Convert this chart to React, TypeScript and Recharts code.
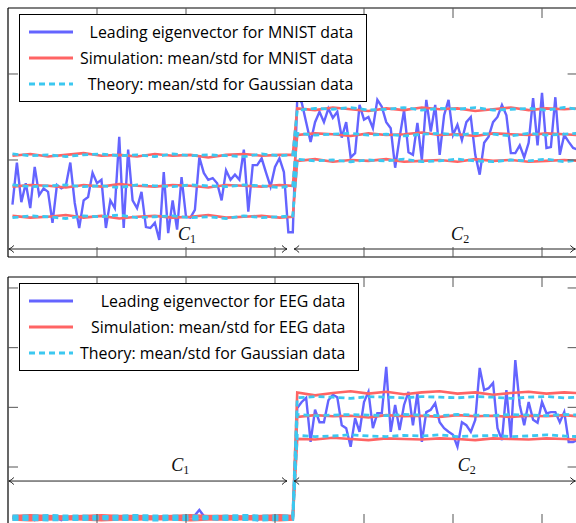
import React from 'react';
import { LineChart, Line, XAxis, YAxis, Legend, ReferenceLine, ReferenceDot } from 'recharts';

// leading eigenvector entries, samples 1..128 (1-64 = class C1, 65-128 = class C2)
const MNIST_VEC = [
  -0.052, -0.003, -0.049, -0.027, -0.056, -0.008, -0.041, -0.033, -0.037, -0.073, -0.029, -0.033, -0.030, -0.003, -0.050, -0.079,
  -0.047, -0.043, -0.015, -0.027, -0.023, -0.079, -0.047, -0.056, 0.027, -0.079, 0.012, -0.047, -0.056, -0.037, -0.078, -0.079,
  -0.073, -0.093, -0.014, -0.085, -0.047, -0.081, -0.020, -0.066, -0.067, -0.058, 0.003, -0.015, -0.023, -0.021, -0.027, -0.047,
  -0.012, -0.023, -0.017, -0.023, 0.012, -0.060, -0.006, -0.006, 0.002, -0.015, -0.031, -0.008, 0.002, -0.014, -0.084, -0.084,
  0.072, 0.067, 0.044, 0.021, 0.044, 0.056, 0.044, 0.060, 0.049, 0.056, 0.026, 0.044, 0.003, 0.008, 0.064, 0.047,
  0.050, 0.037, 0.070, 0.062, 0.044, 0.037, -0.009, 0.026, 0.058, 0.009, 0.006, 0.043, 0.000, 0.070, 0.033, 0.064,
  0.006, 0.052, 0.070, 0.029, 0.041, 0.023, 0.044, 0.050, 0.006, -0.017, 0.020, 0.027, 0.044, 0.050, 0.064, 0.052,
  0.008, 0.008, 0.017, 0.003, 0.020, 0.072, 0.017, 0.078, 0.014, 0.015, 0.073, 0.006, 0.029, 0.021, 0.014, 0.012,
];

const EEG_VEC = [
  -0.085, -0.085, -0.086, -0.085, -0.085, -0.089, -0.085, -0.084, -0.085, -0.085, -0.086, -0.089, -0.085, -0.085, -0.084, -0.085,
  -0.085, -0.086, -0.085, -0.085, -0.084, -0.085, -0.085, -0.085, -0.086, -0.088, -0.085, -0.085, -0.084, -0.085, -0.085, -0.086,
  -0.085, -0.085, -0.085, -0.084, -0.085, -0.086, -0.085, -0.085, -0.084, -0.081, -0.072, -0.082, -0.085, -0.086, -0.088, -0.085,
  -0.085, -0.084, -0.085, -0.085, -0.086, -0.085, -0.085, -0.089, -0.085, -0.084, -0.085, -0.086, -0.085, -0.085, -0.085, -0.085,
  0.099, 0.109, 0.116, 0.042, 0.096, 0.075, 0.075, 0.112, 0.121, 0.117, 0.070, 0.065, 0.034, 0.082, 0.059, 0.109,
  0.126, 0.065, 0.090, 0.090, 0.168, 0.059, 0.104, 0.062, 0.104, 0.126, 0.070, 0.124, 0.042, 0.092, 0.096, 0.107,
  0.075, 0.065, 0.059, 0.054, 0.034, 0.075, 0.070, 0.059, 0.079, 0.166, 0.129, 0.132, 0.141, 0.065, 0.045, 0.129,
  0.049, 0.179, 0.104, 0.070, 0.109, 0.079, 0.074, 0.109, 0.090, 0.092, 0.092, 0.075, 0.092, 0.042, 0.042, 0.045,
];

// sample indices at which the mean and mean +/- std curves are given
const STAT_IDX = [
  1, 5, 9, 13, 17, 21, 25, 29, 33, 37, 41, 45, 49, 53, 57, 61, 64,
  65, 69, 73, 77, 81, 85, 89, 93, 97, 101, 105, 109, 113, 117, 121, 125, 128,
];

const MNIST_SIM_HI = [
  0.005, 0.007, 0.004, 0.006, 0.008, 0.005, 0.006, 0.004, 0.007, 0.005, 0.006, 0.003, 0.006, 0.007, 0.005, 0.006, 0.006,
  0.060, 0.058, 0.061, 0.059, 0.057, 0.060, 0.058, 0.061, 0.059, 0.060, 0.057, 0.059, 0.061, 0.058, 0.060, 0.059, 0.060,
];
const MNIST_SIM_MEAN = [
  -0.031, -0.029, -0.030, -0.032, -0.029, -0.031, -0.028, -0.030, -0.031, -0.029, -0.030, -0.032, -0.029, -0.030, -0.031, -0.029, -0.030,
  0.029, 0.031, 0.030, 0.028, 0.031, 0.029, 0.030, 0.032, 0.029, 0.030, 0.028, 0.031, 0.030, 0.029, 0.031, 0.030, 0.029,
];
const MNIST_SIM_LO = [
  -0.065, -0.067, -0.066, -0.064, -0.067, -0.065, -0.068, -0.066, -0.065, -0.067, -0.066, -0.064, -0.067, -0.066, -0.065, -0.067, -0.066,
  -0.001, 0.001, -0.002, 0.000, -0.001, 0.001, -0.002, -0.001, 0.000, -0.002, 0.001, -0.001, 0.000, -0.002, -0.001, 0.000, -0.001,
];
const MNIST_TH_HI = [
  0.007, 0.005, 0.006, 0.004, 0.006, 0.007, 0.005, 0.006, 0.004, 0.007, 0.005, 0.006, 0.005, 0.004, 0.007, 0.005, 0.006,
  0.058, 0.060, 0.059, 0.061, 0.058, 0.059, 0.061, 0.058, 0.060, 0.059, 0.061, 0.058, 0.059, 0.060, 0.058, 0.061, 0.059,
];
const MNIST_TH_MEAN = [
  -0.029, -0.031, -0.030, -0.029, -0.031, -0.030, -0.032, -0.029, -0.030, -0.031, -0.029, -0.030, -0.031, -0.029, -0.030, -0.032, -0.030,
  0.031, 0.029, 0.030, 0.031, 0.029, 0.030, 0.028, 0.030, 0.031, 0.029, 0.031, 0.030, 0.028, 0.031, 0.029, 0.030, 0.031,
];
const MNIST_TH_LO = [
  -0.067, -0.065, -0.066, -0.068, -0.065, -0.066, -0.064, -0.067, -0.066, -0.065, -0.067, -0.066, -0.068, -0.065, -0.067, -0.066, -0.065,
  0.001, -0.001, 0.000, -0.002, 0.000, -0.001, 0.001, -0.002, -0.001, 0.001, -0.001, -0.002, 0.000, -0.001, 0.001, -0.002, 0.000,
];

const EEG_SIM_HI = [
  -0.082, -0.081, -0.082, -0.083, -0.082, -0.081, -0.082, -0.082, -0.083, -0.082, -0.081, -0.082, -0.082, -0.083, -0.082, -0.081, -0.082,
  0.125, 0.120, 0.124, 0.127, 0.123, 0.126, 0.122, 0.125, 0.127, 0.123, 0.125, 0.121, 0.124, 0.126, 0.123, 0.125, 0.124,
];
const EEG_SIM_MEAN = [
  -0.085, -0.085, -0.086, -0.085, -0.084, -0.085, -0.085, -0.086, -0.085, -0.085, -0.084, -0.085, -0.085, -0.086, -0.085, -0.085, -0.085,
  0.084, 0.087, 0.085, 0.086, 0.083, 0.087, 0.085, 0.086, 0.084, 0.087, 0.085, 0.086, 0.084, 0.086, 0.085, 0.087, 0.085,
];
const EEG_SIM_LO = [
  -0.088, -0.089, -0.088, -0.087, -0.088, -0.089, -0.088, -0.088, -0.087, -0.088, -0.089, -0.088, -0.088, -0.087, -0.088, -0.089, -0.088,
  0.047, 0.046, 0.049, 0.047, 0.045, 0.048, 0.047, 0.046, 0.048, 0.047, 0.045, 0.048, 0.047, 0.046, 0.048, 0.047, 0.046,
];
const EEG_TH_HI = [
  -0.082, -0.082, -0.081, -0.082, -0.082, -0.083, -0.082, -0.081, -0.082, -0.082, -0.082, -0.083, -0.082, -0.081, -0.082, -0.082, -0.082,
  0.116, 0.118, 0.117, 0.115, 0.118, 0.117, 0.116, 0.118, 0.117, 0.116, 0.118, 0.117, 0.115, 0.117, 0.118, 0.116, 0.117,
];
const EEG_TH_MEAN = [
  -0.085, -0.085, -0.085, -0.086, -0.085, -0.085, -0.084, -0.085, -0.085, -0.085, -0.086, -0.085, -0.085, -0.084, -0.085, -0.085, -0.085,
  0.088, 0.086, 0.087, 0.088, 0.087, 0.086, 0.088, 0.087, 0.086, 0.088, 0.087, 0.086, 0.088, 0.087, 0.086, 0.088, 0.087,
];
const EEG_TH_LO = [
  -0.088, -0.088, -0.089, -0.088, -0.088, -0.087, -0.088, -0.088, -0.089, -0.088, -0.088, -0.087, -0.088, -0.088, -0.089, -0.088, -0.088,
  0.053, 0.051, 0.052, 0.054, 0.052, 0.051, 0.053, 0.052, 0.054, 0.051, 0.052, 0.053, 0.051, 0.052, 0.054, 0.052, 0.051,
];

const X_TICKS = [20, 40, 60, 80, 100, 120];
const MNIST_Y_TICKS = [0, 0.1];
const EEG_Y_TICKS = [0, 0.1, 0.2, 0.3];

// class arrows: [start, end] sample positions, and where the class names go
const CLASS_SPANS = [[0.2, 62.7], [64.3, 127.5]];
const CLASS_NAMES = ['1', '2'];
const MNIST_LABEL_X = [40.2, 101.6];
const EEG_LABEL_X = [38.7, 103.1];

const MNIST_LEGEND = [
  'Leading eigenvector for MNIST data',
  'Simulation: mean/std for MNIST data',
  'Theory: mean/std for Gaussian data',
];
const EEG_LEGEND = [
  'Leading eigenvector for EEG data',
  'Simulation: mean/std for EEG data',
  'Theory: mean/std for Gaussian data',
];

const BLUE = '#6464ff';
const RED = '#ff6464';
const CYAN = '#3cc8f0';
const DASH = '6 4';

const buildRows = (vec: number[], stats: number[][]) => {
  const rows: any[] = vec.map((v, k) => ({ x: k + 1, vec: v }));
  const keys = ['simHi', 'simMean', 'simLo', 'thHi', 'thMean', 'thLo'];
  STAT_IDX.forEach((ix, j) => {
    keys.forEach((key, s) => {
      rows[ix - 1][key] = stats[s][j];
    });
  });
  return rows;
};

const arrowShape = (props: any) => {
  const { x1, y1, x2, y2 } = props;
  const w = 5;
  const h = 3.5;
  return (
    <g stroke="#222" strokeWidth={1} fill="none">
      <line x1={x1} y1={y1} x2={x2} y2={y2} />
      <path d={`M${x1 + w},${y1 - h} Q${x1 + 2},${y1 - 0.5} ${x1},${y1} Q${x1 + 2},${y1 + 0.5} ${x1 + w},${y1 + h}`} />
      <path d={`M${x2 - w},${y2 - h} Q${x2 - 2},${y2 - 0.5} ${x2},${y2} Q${x2 - 2},${y2 + 0.5} ${x2 - w},${y2 + h}`} />
    </g>
  );
};

const classLabel = (sub: string) => (props: any) => (
  <text
    x={props.cx}
    y={props.cy}
    textAnchor="middle"
    fill="#111"
    fontFamily="'Liberation Serif', serif"
    fontSize={18}
    fontStyle="italic"
  >
    C<tspan dy={3} fontSize={12} fontStyle="normal">{sub}</tspan>
  </text>
);

// tick marks only, no tick labels
const noLabel = () => <g />;

const LegendBox = ({ labels }: { labels: string[] }) => {
  const styles = [
    { color: BLUE, dash: undefined },
    { color: RED, dash: undefined },
    { color: CYAN, dash: DASH },
  ];
  return (
    <div
      style={{
        background: '#fff',
        border: '1px solid #000',
        padding: '4px 13px 4px 9px',
        fontFamily: "'Open Sans', sans-serif",
        fontSize: 15.9,
        color: '#000',
        whiteSpace: 'nowrap',
      }}
    >
      {labels.map((label, i) => (
        <div key={label} style={{ display: 'flex', alignItems: 'center', height: 26 }}>
          <svg width={44} height={6} style={{ flex: 'none' }}>
            <line x1={0} y1={3} x2={44} y2={3} stroke={styles[i].color} strokeWidth={2.8} strokeDasharray={styles[i].dash} />
          </svg>
          <span style={{ flex: 1, textAlign: 'right', marginLeft: 7 }}>{label}</span>
        </div>
      ))}
    </div>
  );
};

interface PanelProps {
  vec: number[];
  stats: number[][];
  yDomain: number[];
  yTicks: number[];
  arrowY: number;
  labelX: number[];
  labelY: number;
  legend: string[];
  legendTop: number;
  height: number;
  margin: { top: number; right: number; bottom: number; left: number };
}

const Panel = ({ vec, stats, yDomain, yTicks, arrowY, labelX, labelY, legend, legendTop, height, margin }: PanelProps) => {
  const rows = buildRows(vec, stats);
  const frame = { stroke: '#000', strokeWidth: 1.2 };
  const tickLine = { stroke: '#555', strokeWidth: 1 };
  return (
    <LineChart width={590} height={height} data={rows} margin={margin}>
      <XAxis type="number" dataKey="x" domain={[0, 128]} ticks={X_TICKS} interval={0} tick={noLabel} tickSize={-10} height={1} axisLine={frame} tickLine={tickLine} />
      <XAxis xAxisId="top" orientation="top" type="number" dataKey="x" domain={[0, 128]} ticks={X_TICKS} interval={0} tick={noLabel} tickSize={-10} height={1} axisLine={frame} tickLine={tickLine} />
      <YAxis type="number" domain={yDomain} allowDataOverflow ticks={yTicks} interval={0} tick={noLabel} tickSize={-10} width={1} axisLine={frame} tickLine={tickLine} />
      <YAxis yAxisId="right" orientation="right" type="number" domain={yDomain} allowDataOverflow ticks={yTicks} interval={0} tick={noLabel} tickSize={-10} width={1} axisLine={frame} tickLine={tickLine} />

      <Line dataKey="vec" stroke={BLUE} strokeWidth={2.4} dot={false} isAnimationActive={false} />
      <Line dataKey="simHi" stroke={RED} strokeWidth={2.6} dot={false} connectNulls isAnimationActive={false} />
      <Line dataKey="simMean" stroke={RED} strokeWidth={2.6} dot={false} connectNulls isAnimationActive={false} />
      <Line dataKey="simLo" stroke={RED} strokeWidth={2.6} dot={false} connectNulls isAnimationActive={false} />
      <Line dataKey="thHi" stroke={CYAN} strokeWidth={2.8} strokeDasharray={DASH} dot={false} connectNulls isAnimationActive={false} />
      <Line dataKey="thMean" stroke={CYAN} strokeWidth={2.8} strokeDasharray={DASH} dot={false} connectNulls isAnimationActive={false} />
      <Line dataKey="thLo" stroke={CYAN} strokeWidth={2.8} strokeDasharray={DASH} dot={false} connectNulls isAnimationActive={false} />

      {CLASS_SPANS.map(([a, b], i) => (
        <ReferenceLine key={`arrow-${i}`} segment={[{ x: a, y: arrowY }, { x: b, y: arrowY }]} shape={arrowShape} />
      ))}
      {labelX.map((lx, i) => (
        <ReferenceDot key={`label-${i}`} x={lx} y={labelY} r={0} shape={classLabel(CLASS_NAMES[i])} />
      ))}

      <Legend
        layout="horizontal"
        verticalAlign="middle"
        align="center"
        wrapperStyle={{ left: 19, top: legendTop, width: 'auto', height: 'auto' }}
        content={() => <LegendBox labels={legend} />}
      />
    </LineChart>
  );
};

export default function App() {
  return (
    <div style={{ position: 'fixed', left: 0, top: 0, width: 576, height: 523, overflow: 'hidden', background: '#fff' }}>
      <div style={{ position: 'absolute', left: 0, top: 0 }}>
        <Panel
          vec={MNIST_VEC}
          stats={[MNIST_SIM_HI, MNIST_SIM_MEAN, MNIST_SIM_LO, MNIST_TH_HI, MNIST_TH_MEAN, MNIST_TH_LO]}
          yDomain={[-0.11279, 0.17674]}
          yTicks={MNIST_Y_TICKS}
          arrowY={-0.1035}
          labelX={MNIST_LABEL_X}
          labelY={-0.093}
          legend={MNIST_LEGEND}
          legendTop={14}
          height={267}
          margin={{ top: 7, right: 11.4, bottom: 9, left: 7 }}
        />
      </div>
      <div style={{ position: 'absolute', left: 0, top: 267 }}>
        <Panel
          vec={EEG_VEC}
          stats={[EEG_SIM_HI, EEG_SIM_MEAN, EEG_SIM_LO, EEG_TH_HI, EEG_TH_MEAN, EEG_TH_LO]}
          yDomain={[-0.0955, 0.3184]}
          yTicks={EEG_Y_TICKS}
          arrowY={-0.0235}
          labelX={EEG_LABEL_X}
          labelY={-0.0067}
          legend={EEG_LEGEND}
          legendTop={16}
          height={270}
          margin={{ top: 9, right: 11.4, bottom: 12, left: 7 }}
        />
      </div>
    </div>
  );
}
